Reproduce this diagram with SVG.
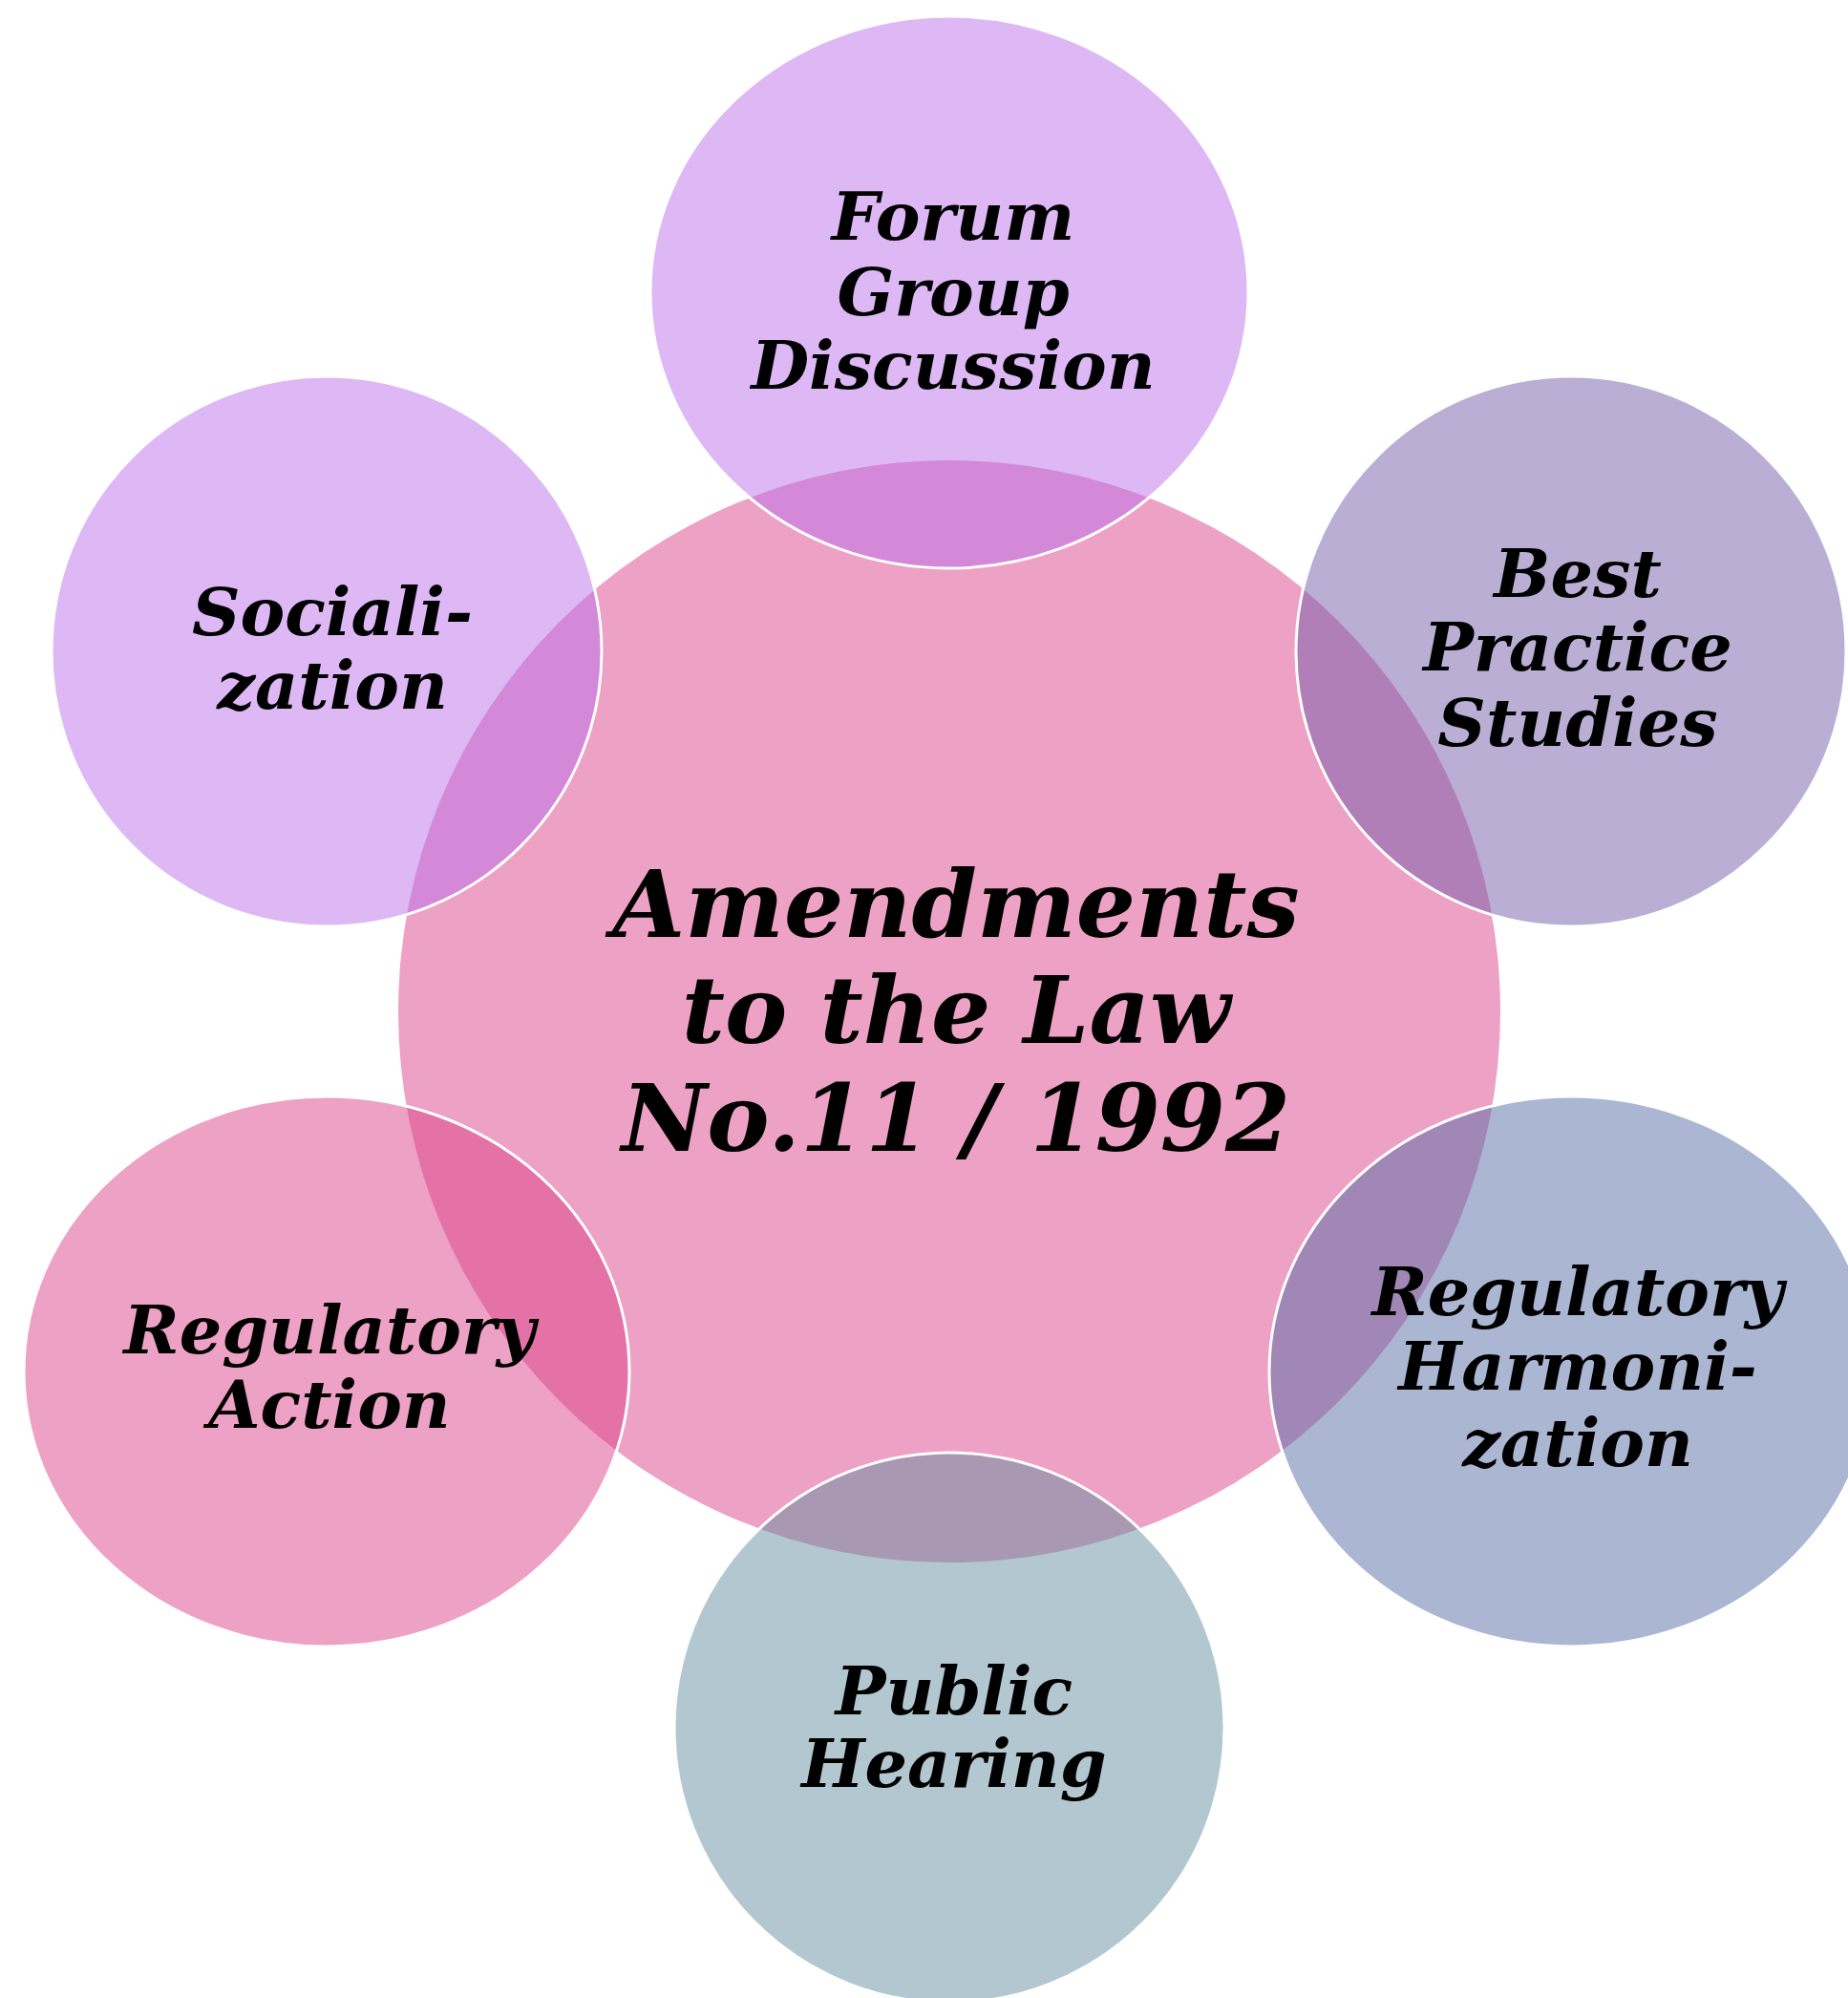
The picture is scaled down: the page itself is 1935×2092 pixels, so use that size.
<svg xmlns="http://www.w3.org/2000/svg" width="1935" height="2092" viewBox="0 0 1935 2092">
  <style>
    .hub { fill: #EDA1C4; }
    .sat { fill-opacity: 0.5; stroke: #FFFFFF; stroke-width: 3; }
    .lbl { font-family: "DejaVu Serif", "Liberation Serif", serif; font-weight: bold; font-style: italic; fill: #000000; text-anchor: middle; }
    .small { font-size: 70px; }
    .big { font-size: 98px; }
  </style>
  <rect width="1935" height="2092" fill="#FFFFFF"/>

  <!-- central topic -->
  <g id="hub">
    <circle class="hub" cx="994" cy="1059" r="577"/>
  </g>

  <!-- surrounding activities, drawn over the hub -->
  <g id="forum">
    <ellipse class="sat" cx="994" cy="306" rx="313" ry="289" fill="#BB71EB"/>
  </g>
  <g id="best-practice">
    <circle class="sat" cx="1645" cy="682" r="288" fill="#755DA9"/>
  </g>
  <g id="harmonization">
    <ellipse class="sat" cx="1645" cy="1436" rx="316" ry="288" fill="#556DA5"/>
  </g>
  <g id="public-hearing">
    <circle class="sat" cx="994" cy="1809" r="288" fill="#658F9F"/>
  </g>
  <g id="regulatory-action">
    <ellipse class="sat" cx="342" cy="1436" rx="317" ry="288" fill="#DB4389"/>
  </g>
  <g id="socialization">
    <circle class="sat" cx="342" cy="682" r="288" fill="#BB71EB"/>
  </g>

  <!-- labels -->
  <g id="labels">
    <text class="lbl big"><tspan x="1001" y="981">Amendments</tspan><tspan x="1001" y="1092">to the Law</tspan><tspan x="1001" y="1205">No.11 / 1992</tspan></text>
    <text class="lbl small"><tspan x="998" y="251">Forum</tspan><tspan x="998" y="330">Group</tspan><tspan x="998" y="407">Discussion</tspan></text>
    <text class="lbl small"><tspan x="1652" y="625">Best</tspan><tspan x="1652" y="702">Practice</tspan><tspan x="1652" y="781">Studies</tspan></text>
    <text class="lbl small"><tspan x="1652" y="1377">Regulatory</tspan><tspan x="1652" y="1455">Harmoni-</tspan><tspan x="1652" y="1535">zation</tspan></text>
    <text class="lbl small"><tspan x="999" y="1795">Public</tspan><tspan x="999" y="1871">Hearing</tspan></text>
    <text class="lbl small"><tspan x="345" y="1417">Regulatory</tspan><tspan x="345" y="1495">Action</tspan></text>
    <text class="lbl small"><tspan x="348" y="665">Sociali-</tspan><tspan x="348" y="742">zation</tspan></text>
  </g>

  <!-- connectors: none drawn; the circles touch and overlap directly -->
  <g id="connectors"/>
</svg>
